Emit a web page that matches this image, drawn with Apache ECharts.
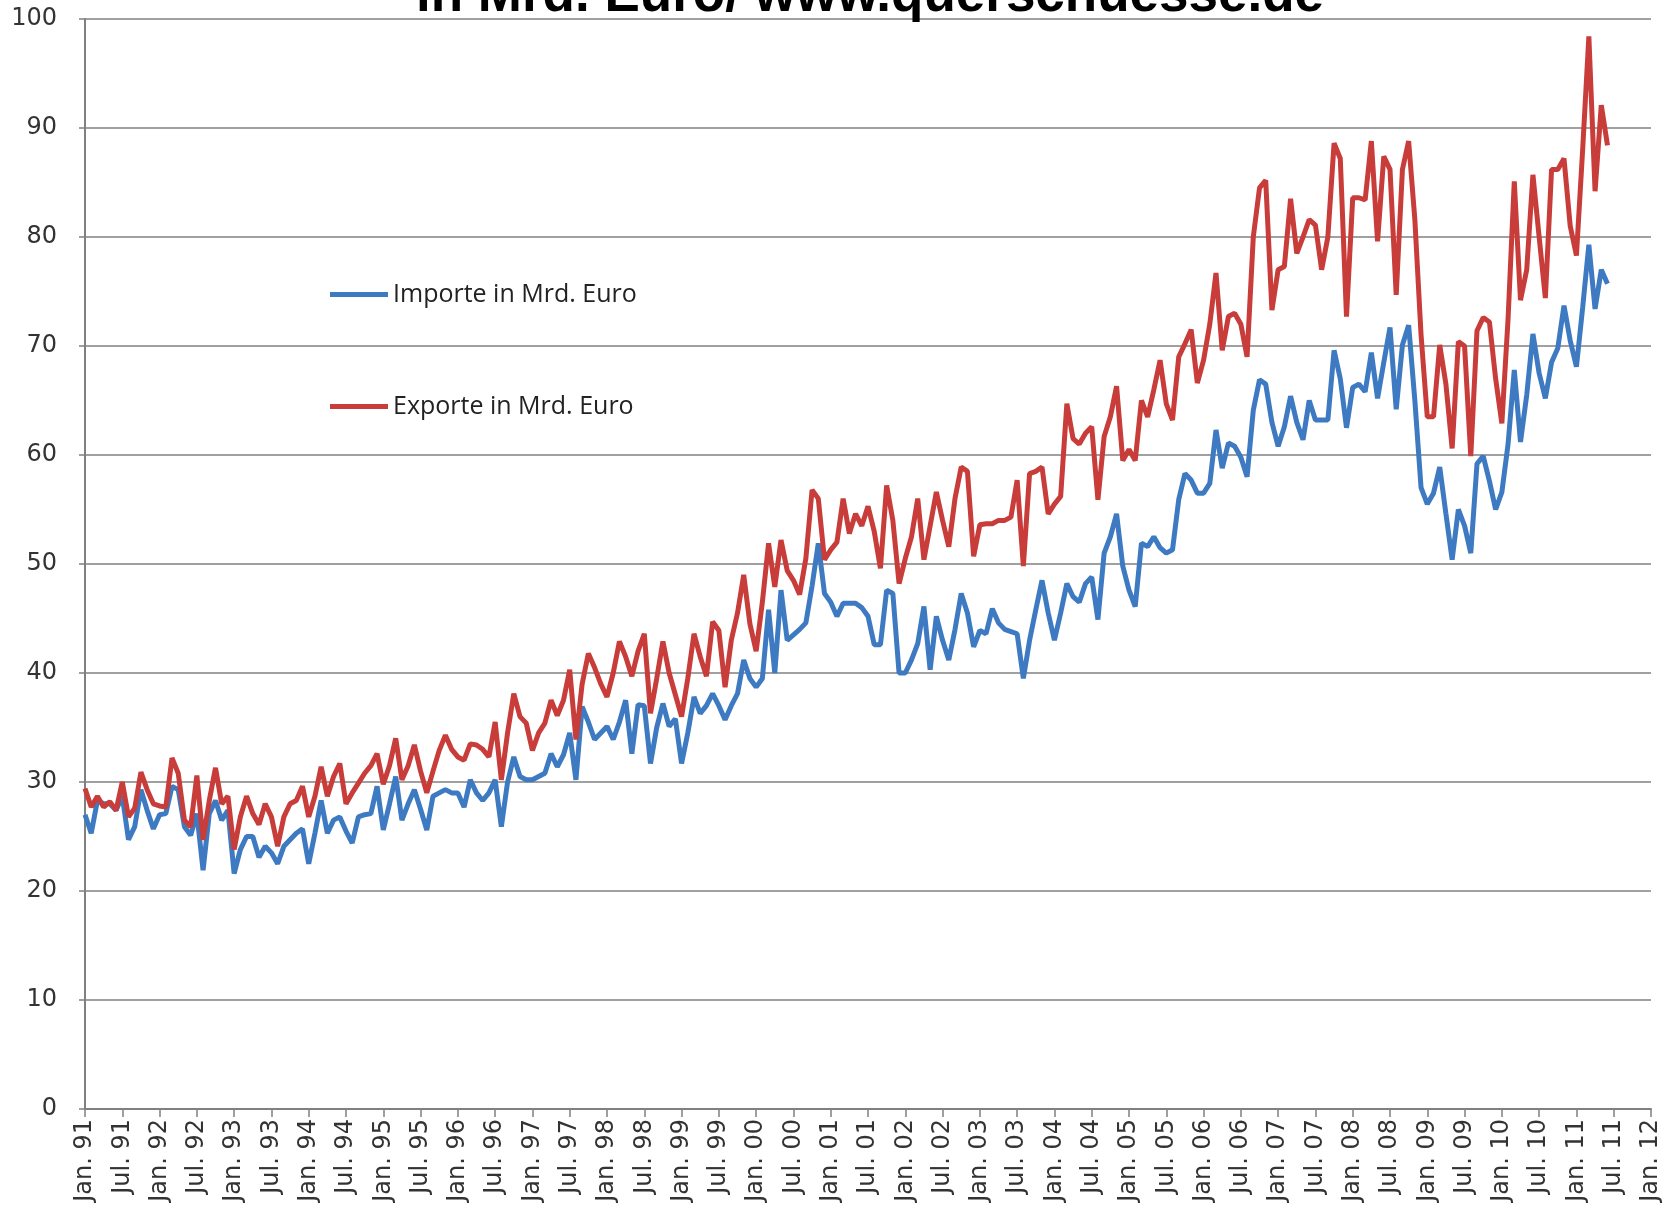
<!DOCTYPE html>
<html><head><meta charset="utf-8">
<script src="https://cdn.jsdelivr.net/npm/echarts@6/dist/echarts.min.js"></script>
<style>html,body{margin:0;padding:0;background:#fff}#c{width:1672px;height:1220px}</style>
</head><body><div id="c"></div>
<script>
// Tick labels every 6 months, Jan. 91 ... Jan. 12
const tickLabels = [
 "Jan. 91","Jul. 91","Jan. 92","Jul. 92","Jan. 93","Jul. 93","Jan. 94","Jul. 94",
 "Jan. 95","Jul. 95","Jan. 96","Jul. 96","Jan. 97","Jul. 97","Jan. 98","Jul. 98",
 "Jan. 99","Jul. 99","Jan. 00","Jul. 00","Jan. 01","Jul. 01","Jan. 02","Jul. 02",
 "Jan. 03","Jul. 03","Jan. 04","Jul. 04","Jan. 05","Jul. 05","Jan. 06","Jul. 06",
 "Jan. 07","Jul. 07","Jan. 08","Jul. 08","Jan. 09","Jul. 09","Jan. 10","Jul. 10",
 "Jan. 11","Jul. 11","Jan. 12"
];
const seriesNames = ["Importe in Mrd. Euro", "Exporte in Mrd. Euro"];

// Monthly imports (Mrd. Euro), Jan 1991 .. Jun 2011
const importe = [
 27.0,25.3,28.3,28.0,28.0,27.4,28.7,24.7,25.9,29.3,27.4,25.7, // 1991
 27.0,27.1,29.6,29.3,25.9,25.1,27.1,21.9,27.1,28.3,26.5,27.4, // 1992
 21.6,23.8,25.0,25.0,23.1,24.1,23.5,22.5,24.1,24.7,25.3,25.7, // 1993
 22.5,25.3,28.3,25.3,26.5,26.8,25.5,24.4,26.8,27.0,27.1,29.6, // 1994
 25.6,28.0,30.5,26.5,28.0,29.3,27.5,25.6,28.7,29.0,29.3,29.0, // 1995
 29.0,27.7,30.2,29.0,28.3,29.0,30.2,25.9,30.0,32.3,30.5,30.2, // 1996
 30.2,30.5,30.8,32.6,31.4,32.5,34.5,30.2,36.9,35.5,33.9,34.5, // 1997
 35.1,33.9,35.5,37.5,32.6,37.1,37.0,31.7,35.0,37.2,35.1,35.8, // 1998
 31.7,34.5,37.8,36.3,37.0,38.1,37.0,35.7,37.0,38.1,41.2,39.5, // 1999
 38.7,39.5,45.8,40.0,47.6,43.0,43.5,44.0,44.6,48.0,51.9,47.3, // 2000
 46.5,45.2,46.4,46.4,46.4,46.0,45.2,42.6,42.6,47.6,47.3,40.0, // 2001
 40.0,41.2,42.7,46.1,40.3,45.2,43.0,41.2,44.0,47.3,45.5,42.4, // 2002
 43.9,43.6,45.9,44.6,44.0,43.8,43.6,39.5,43.0,45.8,48.5,45.5, // 2003
 43.0,45.5,48.2,47.0,46.5,48.2,48.8,44.9,51.0,52.5,54.6,49.8, // 2004
 47.6,46.1,51.9,51.6,52.5,51.5,51.0,51.3,55.9,58.3,57.7,56.5, // 2005
 56.5,57.4,62.3,58.8,61.1,60.8,59.8,58.0,64.1,66.9,66.5,63.0, // 2006
 60.8,62.6,65.4,63.0,61.4,65.0,63.2,63.2,63.2,69.6,67.0,62.5, // 2007
 66.2,66.5,65.8,69.4,65.2,68.5,71.7,64.2,70.1,71.9,65.0,57.0, // 2008
 55.5,56.5,58.9,54.6,50.4,55.0,53.5,51.0,59.2,59.9,57.6,55.0, // 2009
 56.6,61.0,67.8,61.2,65.5,71.1,67.5,65.2,68.5,69.8,73.7,70.5, // 2010
 68.1,73.5,79.3,73.4,77.0,75.7                                 // 2011
];

// Monthly exports (Mrd. Euro), Jan 1991 .. Jun 2011
const exporte = [
 29.4,27.7,28.7,27.7,28.2,27.4,30.0,26.8,27.6,30.9,29.3,28.0, // 1991
 27.8,27.7,32.2,30.8,26.5,25.9,30.6,24.7,28.3,31.3,28.0,28.7, // 1992
 23.8,26.8,28.7,27.1,26.1,28.0,26.8,24.1,26.8,28.0,28.3,29.6, // 1993
 26.8,28.7,31.4,28.7,30.5,31.7,28.0,29.0,29.9,30.8,31.5,32.6, // 1994
 29.8,31.5,34.0,30.2,31.5,33.4,31.0,29.0,31.0,32.9,34.3,33.0, // 1995
 32.3,32.0,33.5,33.4,33.0,32.3,35.5,30.2,34.5,38.1,36.0,35.4, // 1996
 32.9,34.5,35.4,37.5,36.1,37.5,40.3,33.9,39.0,41.8,40.5,39.0, // 1997
 37.8,40.0,42.9,41.5,39.7,42.0,43.6,36.3,39.5,42.9,40.0,38.0, // 1998
 36.0,39.5,43.6,41.5,39.7,44.7,43.9,38.7,43.0,45.5,49.0,44.5, // 1999
 42.0,46.5,51.9,47.9,52.2,49.4,48.5,47.2,50.5,56.8,56.0,50.4, // 2000
 51.3,52.0,56.0,52.8,54.6,53.5,55.3,53.0,49.6,57.2,54.0,48.2, // 2001
 50.5,52.5,56.0,50.4,53.5,56.6,54.0,51.6,56.0,58.9,58.5,50.7, // 2002
 53.6,53.7,53.7,54.0,54.0,54.3,57.7,49.8,58.3,58.5,58.9,54.6, // 2003
 55.5,56.2,64.7,61.5,61.0,62.0,62.6,55.9,61.7,63.5,66.3,59.5, // 2004
 60.5,59.5,65.0,63.5,66.0,68.7,64.7,63.2,69.0,70.2,71.5,66.6, // 2005
 68.7,72.0,76.7,69.6,72.7,73.0,72.0,69.0,80.0,84.5,85.2,73.3, // 2006
 77.0,77.3,83.5,78.5,80.0,81.6,81.1,77.0,80.0,88.6,87.2,72.7, // 2007
 83.6,83.6,83.4,88.8,79.6,87.4,86.2,74.7,86.2,88.8,81.6,71.0, // 2008
 63.5,63.5,70.1,66.5,60.6,70.4,70.0,59.9,71.4,72.6,72.2,67.0, // 2009
 62.9,72.5,85.1,74.2,77.0,85.7,80.0,74.4,86.2,86.2,87.2,81.0, // 2010
 78.3,88.0,98.4,84.2,92.1,88.4                                 // 2011
];

const chart = echarts.init(document.getElementById('c'), null, {renderer: 'canvas'});
const axisGrey = '#808080';
chart.setOption({
  animation: false,
  backgroundColor: '#ffffff',
  title: {
    text: 'in Mrd. Euro/ www.querschuesse.de',
    left: 411, top: -35,
    textStyle: {fontFamily: 'Liberation Sans', fontWeight: 'bold', fontSize: 53, color: '#000'}
  },
  legend: {
    data: seriesNames,
    orient: 'vertical',
    left: 325, top: 277,
    itemWidth: 58, itemHeight: 5, itemGap: 87,
    icon: 'rect',
    textStyle: {fontFamily: 'Open Sans', fontSize: 25, color: '#222'}
  },
  grid: {left: 85, right: 21, top: 19, bottom: 111, containLabel: false},
  xAxis: {
    type: 'value', min: 0, max: 252, interval: 6,
    axisLine: {show: true, lineStyle: {color: axisGrey, width: 2}},
    axisTick: {show: true, length: 8, lineStyle: {color: axisGrey, width: 1.5}},
    splitLine: {show: false},
    axisLabel: {
      rotate: 90, margin: 10,
      fontFamily: 'DejaVu Sans', fontSize: 24, color: '#333',
      formatter: function (v) { return tickLabels[Math.round(v / 6)] || ''; }
    }
  },
  yAxis: {
    type: 'value', min: 0, max: 100, interval: 10,
    axisLine: {show: true, lineStyle: {color: axisGrey, width: 2}},
    axisTick: {show: true, length: 6, lineStyle: {color: axisGrey, width: 1.5}},
    splitLine: {show: true, lineStyle: {color: axisGrey, width: 1.6}},
    axisLabel: {margin: 28, fontFamily: 'DejaVu Sans', fontSize: 24, color: '#333'}
  },
  series: [
    {
      name: seriesNames[0], type: 'line', showSymbol: false, symbol: 'none',
      data: importe.map((v, i) => [i, v]),
      lineStyle: {width: 5, color: '#3d7ac2'}, itemStyle: {color: '#3d7ac2'}
    },
    {
      name: seriesNames[1], type: 'line', showSymbol: false, symbol: 'none',
      data: exporte.map((v, i) => [i, v]),
      lineStyle: {width: 5, color: '#c83c3a'}, itemStyle: {color: '#c83c3a'}
    }
  ]
});
</script>
</body></html>
